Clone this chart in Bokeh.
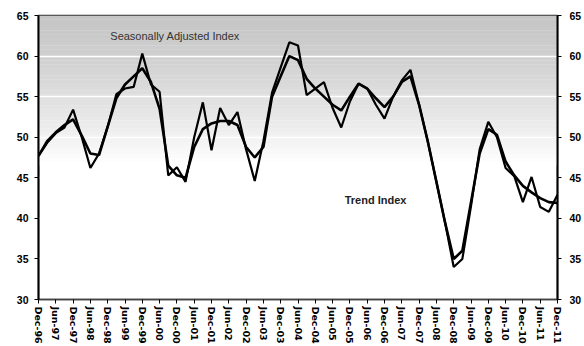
import math
from bokeh.plotting import figure
from bokeh.models import Range1d, LinearAxis, FixedTicker, Label
from bokeh.embed import file_html
from bokeh.resources import INLINE

# Half-year tick labels, Dec-96 .. Dec-11
tick_labels = ["Dec-96", "Jun-97", "Dec-97", "Jun-98", "Dec-98", "Jun-99", "Dec-99",
               "Jun-00", "Dec-00", "Jun-01", "Dec-01", "Jun-02", "Dec-02", "Jun-03",
               "Dec-03", "Jun-04", "Dec-04", "Jun-05", "Dec-05", "Jun-06", "Dec-06",
               "Jun-07", "Dec-07", "Jun-08", "Dec-08", "Jun-09", "Dec-09", "Jun-10",
               "Dec-10", "Jun-11", "Dec-11"]

# Quarterly readings, Dec-96 .. Dec-11
seasonally_adjusted = [
    47.7, 49.3, 50.5, 51.2, 53.4, 50.0, 46.2, 48.0, 51.3, 55.3,
    56.0, 56.2, 60.3, 56.5, 55.6, 45.3, 46.3, 44.5, 50.0, 54.3,
    48.4, 53.6, 51.5, 53.1, 48.5, 44.6, 49.5, 55.5, 58.6, 61.7,
    61.3, 55.2, 56.0, 56.8, 53.6, 51.2, 54.4, 56.6, 56.0, 54.0,
    52.3, 55.0, 57.0, 58.3, 54.0, 49.5, 44.5, 39.5, 34.0, 35.0,
    41.5, 48.5, 51.9, 50.0, 46.2, 45.2, 42.0, 45.1, 41.4, 40.8,
    42.9]
trend = [
    47.7, 49.5, 50.6, 51.5, 52.2, 50.2, 48.0, 47.8, 51.3, 54.8,
    56.5, 57.5, 58.5, 56.8, 53.5, 46.5, 45.3, 45.0, 48.8, 51.0,
    51.7, 52.0, 52.0, 51.5, 48.8, 47.5, 48.8, 55.0, 57.5, 60.0,
    59.5, 57.2, 56.0, 55.0, 54.0, 53.3, 55.0, 56.6, 56.0, 54.8,
    53.7, 55.0, 56.8, 57.5, 54.0, 49.5, 44.5, 39.5, 35.0, 36.0,
    42.0, 48.0, 51.0, 50.3, 47.0, 45.3, 44.0, 43.2, 42.5, 42.0,
    41.9]
quarters = list(range(len(seasonally_adjusted)))

Y_MIN, Y_MAX = 30, 65

p = figure(width=584, height=346, output_backend="svg", toolbar_location=None,
           x_range=Range1d(0, len(quarters) - 1), y_range=Range1d(Y_MIN, Y_MAX),
           min_border_left=38, min_border_right=26, min_border_top=15,
           min_border_bottom=46)
p.background_fill_color = "white"
p.border_fill_color = "white"
p.outline_line_color = "#333333"
p.outline_line_width = 1.5

# grey shading that fades out towards the middle of the plot
steps = 40
fade_bottom = 46.5
band = (Y_MAX - fade_bottom) / steps
tops, bottoms, colors = [], [], []
for i in range(steps):
    t = i / (steps - 1)
    g = int(198 + (255 - 198) * t ** 1.3)
    tops.append(Y_MAX - i * band)
    bottoms.append(Y_MAX - (i + 1) * band - 0.02)
    colors.append("#%02x%02x%02x" % (g, g, g))
p.quad(left=0, right=len(quarters) - 1, top=tops, bottom=bottoms,
       fill_color=colors, line_color=None, level="image")

p.xgrid.visible = False
p.ygrid.grid_line_color = "white"
p.ygrid.grid_line_width = 1.5
p.ygrid.ticker = FixedTicker(ticks=list(range(Y_MIN, Y_MAX + 1, 5)))

p.line(quarters, trend, line_color="black", line_width=2.6)
p.line(quarters, seasonally_adjusted, line_color="black", line_width=2.2)

# axes
font = "Liberation Sans"
yt = FixedTicker(ticks=list(range(Y_MIN, Y_MAX + 1, 5)))
p.yaxis[0].ticker = yt
right = LinearAxis(ticker=yt)
p.add_layout(right, "right")
for ax in [p.yaxis[0], right]:
    ax.axis_line_color = "black"
    ax.axis_line_width = 2
    ax.major_tick_line_color = "black"
    ax.major_tick_out = 4
    ax.major_tick_in = 0
    ax.minor_tick_line_color = None
    ax.major_label_text_font = font
    ax.major_label_text_font_style = "bold"
    ax.major_label_text_font_size = "10.5px"
    ax.major_label_text_color = "black"
p.yaxis[0].major_label_standoff = 6
right.major_label_standoff = 8

xa = p.xaxis[0]
xa.ticker = FixedTicker(ticks=list(range(0, len(quarters), 2)))
xa.major_label_overrides = {i * 2: lab for i, lab in enumerate(tick_labels)}
xa.major_label_orientation = -math.pi / 2
xa.major_label_text_font = "DejaVu Sans"
xa.major_label_text_font_size = "9.5px"
xa.major_label_text_font_style = "bold"
xa.major_label_text_color = "black"
xa.major_label_standoff = 3
xa.axis_line_color = "#444444"
xa.axis_line_width = 1.5
xa.major_tick_line_color = "black"
xa.major_tick_out = 4
xa.major_tick_in = 0
xa.minor_tick_line_color = None

p.add_layout(Label(x=8.3, y=62.5, text="Seasonally Adjusted Index",
                   text_font=font, text_font_size="11px", text_color="#333333",
                   text_baseline="middle"))
p.add_layout(Label(x=35.4, y=42.3, text="Trend Index",
                   text_font=font, text_font_size="11px", text_font_style="bold",
                   text_color="#222222", text_baseline="middle"))

open("out.html", "w").write(file_html(p, INLINE))
